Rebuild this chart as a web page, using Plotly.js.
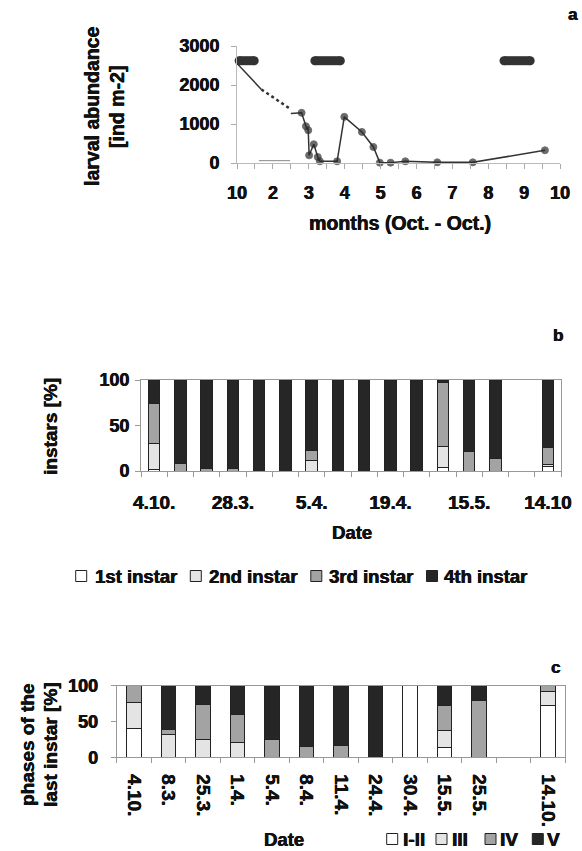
<!DOCTYPE html>
<html><head><meta charset="utf-8">
<script src="https://cdn.plot.ly/plotly-3.0.1.min.js"></script>
<style>html,body{margin:0;padding:0;background:#fff}#chart{width:582px;height:851px}</style>
</head><body><div id="chart"></div>
<script>
// ---------- Panel a: larval abundance ----------
const monthTickPos = [0, 1, 2, 3, 4, 5, 6, 7, 8, 9];
const monthTickLabels = ['10', '2', '3', '4', '5', '6', '7', '8', '9', '10'];
const abundStartX = [0, 0.68];
const abundStartY = [2554, 1886];
const abundGapX = [0.68, 1.47];
const abundGapY = [1886, 1397];
const abundX = [1.5, 1.8, 1.92, 1.985, 2.01, 2.14, 2.25, 2.31, 2.79, 2.99, 3.48, 3.80, 3.98, 4.28, 4.69, 5.58, 6.57, 8.58];
const abundY = [1269, 1286, 943, 840, 197, 480, 154, 43, 43, 1183, 797, 411, 9, 9, 43, 17, 17, 326];
const faintX = [0.61, 1.48];
const faintY = [60, 60];
const periodStart = [0.06, 2.17, 7.44];
const periodEnd = [0.48, 2.88, 8.17];
const periodLevel = 2623;

// ---------- Panel b: instars ----------
const instarTickLabels = ['4.10.', '', '', '28.3.', '', '', '5.4.', '', '', '19.4.', '', '', '15.5.', '', '', '14.10'];
const instarNames = ['1st instar', '2nd instar', '3rd instar', '4th instar'];
const instar1 = [2, 0, 0, 0, 0, 0, 0, 0, 0, 0, 0, 4, 0, 0, null, 5];
const instar2 = [28, 0, 0, 0, 0, 0, 12, 0, 0, 0, 0, 23, 0, 0, null, 2];
const instar3 = [44, 8, 3, 3, 0, 0, 10, 0, 0, 0, 0, 70, 21, 14, null, 19];
const instar4 = [26, 92, 97, 97, 100, 100, 78, 100, 100, 100, 100, 3, 79, 86, null, 74];

// ---------- Panel c: phases of the last instar ----------
const phaseTickLabels = ['4.10.', '8.3.', '25.3.', '1.4.', '5.4.', '8.4.', '11.4.', '24.4.', '30.4.', '15.5.', '25.5.', '', '14.10.'];
const phaseNames = ['I-II', 'III', 'IV', 'V'];
const phaseI_II = [40, 0, 0, 0, 0, 0, 0, 0, 100, 14, 0, null, 72];
const phaseIII = [37, 32, 25, 21, 0, 0, 0, 0, 0, 24, 0, null, 20];
const phaseIV = [23, 7, 49, 39, 25, 15, 16, 0, 0, 34, 79, null, 8];
const phaseV = [0, 61, 26, 40, 75, 85, 84, 100, 0, 28, 21, null, 0];

const fillColors = ['#ffffff', '#e4e4e4', '#a3a3a3', '#262626'];

// ---------- helpers ----------
const W = 582, H = 851;
const FF = 'Liberation Sans, Arial, sans-serif';
const fx = p => p / W;
const fy = p => 1 - p / H;
const bold = (size) => ({family: FF, size: size, color: '#111', weight: 'bold',
  shadow: '0.45px 0 0 #111, -0.2px 0 0 #111'});
const positions = arr => arr.map((_, i) => i + 1);
const shownVals = labels => positions(labels).filter((_, i) => labels[i] !== '');
const shownText = labels => labels.filter(l => l !== '');

const traces = [];
// Panel a traces
traces.push({x: abundStartX, y: abundStartY, xaxis: 'x', yaxis: 'y', mode: 'lines', line: {color: '#333', width: 1.5}, cliponaxis: false, showlegend: false});
traces.push({x: abundGapX, y: abundGapY, xaxis: 'x', yaxis: 'y', mode: 'lines', line: {color: '#333', width: 2.5, dash: 'dot'}, cliponaxis: false, showlegend: false});
traces.push({x: abundX, y: abundY, xaxis: 'x', yaxis: 'y', mode: 'lines+markers',
  line: {color: '#333', width: 1.5},
  marker: {color: '#2a2a2a', size: abundX.map((_, i) => i === 0 ? 0 : 7)},
  cliponaxis: false, showlegend: false});
traces.push({x: faintX, y: faintY, xaxis: 'x', yaxis: 'y', mode: 'lines', line: {color: '#888', width: 1}, showlegend: false});
const perX = [], perY = [];
periodStart.forEach((s, i) => { perX.push(s, periodEnd[i], null); perY.push(periodLevel, periodLevel, null); });
traces.push({x: perX, y: perY, xaxis: 'x', yaxis: 'y', mode: 'lines+markers',
  line: {color: '#333', width: 9}, marker: {color: '#333', size: 9}, cliponaxis: false, showlegend: false});

// Panel b bars
[instar1, instar2, instar3, instar4].forEach((vals, k) => {
  traces.push({type: 'bar', name: instarNames[k], x: positions(instarTickLabels), y: vals, xaxis: 'x2', yaxis: 'y2',
    width: 0.44, marker: {color: fillColors[k], line: {color: '#222', width: 1}}, showlegend: false});
});
// Panel c bars
[phaseI_II, phaseIII, phaseIV, phaseV].forEach((vals, k) => {
  traces.push({type: 'bar', name: phaseNames[k], x: positions(phaseTickLabels), y: vals, xaxis: 'x3', yaxis: 'y3',
    width: 0.42, marker: {color: fillColors[k], line: {color: '#222', width: 1}}, showlegend: false});
});

const axisBase = {showgrid: false, zeroline: false, showline: true, fixedrange: true};

const annotations = [];
const shapes = [];
function ann(text, x, y, size, extra) {
  annotations.push(Object.assign({text: text, x: fx(x), y: fy(y), xref: 'paper', yref: 'paper',
    showarrow: false, xanchor: 'center', yanchor: 'middle', font: bold(size)}, extra || {}));
}
// Panel a texts
ann('a', 573, 15, 17);
ann('larval abundance', 92, 107, 19.5, {textangle: -90});
ann('[ind m-2]', 117, 107, 19.5, {textangle: -90});
ann('months (Oct. - Oct.)', 400, 223, 19.5);
// Panel b texts
ann('b', 558, 336, 17);
ann('instars [%]', 50, 427, 19, {textangle: -90});
ann('Date', 352, 532, 18.5);
// Panel c texts
ann('c', 555, 667, 17);
ann('phases of the', 27, 745, 19, {textangle: -90});
ann('last instar [%]', 50, 745, 19, {textangle: -90});
ann('Date', 284, 839, 18.5);

// Manual legends built from the series names and colours
function legend(names, boxX, textX, yc, size) {
  names.forEach((n, k) => {
    shapes.push({type: 'rect', xref: 'paper', yref: 'paper',
      x0: fx(boxX[k]), x1: fx(boxX[k] + 11), y0: fy(yc + 5.5), y1: fy(yc - 5.5),
      fillcolor: fillColors[k], line: {color: '#222', width: 1}});
    ann(n, textX[k], yc, size, {xanchor: 'left'});
  });
}
legend(instarNames, [75.7, 190.3, 310.8, 426.5], [93, 207, 327, 442], 576, 18.5);
legend(phaseNames, [386.7, 436, 485, 532.3], [401, 450, 498, 545], 839, 19);

const layout = {
  width: W, height: H, margin: {l: 0, r: 0, t: 0, b: 0},
  paper_bgcolor: '#fff', plot_bgcolor: 'rgba(0,0,0,0)',
  barmode: 'stack', showlegend: false,
  font: bold(17),
  xaxis: Object.assign({}, axisBase, {domain: [fx(237), fx(560)], anchor: 'y', range: [0, 9],
    tickmode: 'array', tickvals: monthTickPos, ticktext: monthTickLabels,
    ticks: 'outside', ticklen: 5, tickcolor: '#aaa', linecolor: '#bbb', ticklabelstandoff: 8,
    tickfont: bold(18),
    minor: {tickmode: 'linear', tick0: 0, dtick: 0.5, ticks: 'outside', ticklen: 5, tickcolor: '#aaa', showgrid: false}}),
  yaxis: Object.assign({}, axisBase, {domain: [fy(163), fy(46)], anchor: 'x', range: [0, 3000],
    tickmode: 'array', tickvals: [0, 1000, 2000, 3000],
    ticks: 'outside', ticklen: 5, tickcolor: '#aaa', linecolor: '#bbb', ticklabelstandoff: 8,
    tickfont: bold(18)}),
  xaxis2: Object.assign({}, axisBase, {domain: [fx(141), fx(561)], anchor: 'y2', range: [0.5, instarTickLabels.length + 0.5],
    tickmode: 'array', tickvals: shownVals(instarTickLabels), ticktext: shownText(instarTickLabels),
    ticks: '', mirror: true, linecolor: '#999', ticklabelstandoff: 14,
    tickfont: bold(19),
    minor: {tickmode: 'linear', tick0: 0.5, dtick: 1, ticks: 'outside', ticklen: 5, tickcolor: '#999', showgrid: false}}),
  yaxis2: Object.assign({}, axisBase, {domain: [fy(471), fy(380)], anchor: 'x2', range: [0, 100],
    tickmode: 'array', tickvals: [0, 50, 100],
    ticks: 'outside', ticklen: 5, tickcolor: '#999', mirror: true, linecolor: '#999', ticklabelstandoff: 2,
    tickfont: bold(18)}),
  xaxis3: Object.assign({}, axisBase, {domain: [fx(116.7), fx(565.3)], anchor: 'y3', range: [0.5, phaseTickLabels.length + 0.5],
    tickmode: 'array', tickvals: shownVals(phaseTickLabels), ticktext: shownText(phaseTickLabels),
    ticks: '', tickangle: 90, mirror: true, linecolor: '#999', ticklabelstandoff: 12,
    tickfont: bold(19),
    minor: {tickmode: 'linear', tick0: 0.5, dtick: 1, ticks: 'outside', ticklen: 5, tickcolor: '#999', showgrid: false}}),
  yaxis3: Object.assign({}, axisBase, {domain: [fy(757.3), fy(685.7)], anchor: 'x3', range: [0, 100],
    tickmode: 'array', tickvals: [0, 50, 100],
    ticks: 'outside', ticklen: 5, tickcolor: '#999', mirror: true, linecolor: '#999', ticklabelstandoff: 9,
    tickfont: bold(18)}),
  annotations: annotations,
  shapes: shapes
};

Plotly.newPlot('chart', traces, layout, {staticPlot: true, displayModeBar: false});
</script>
</body></html>
